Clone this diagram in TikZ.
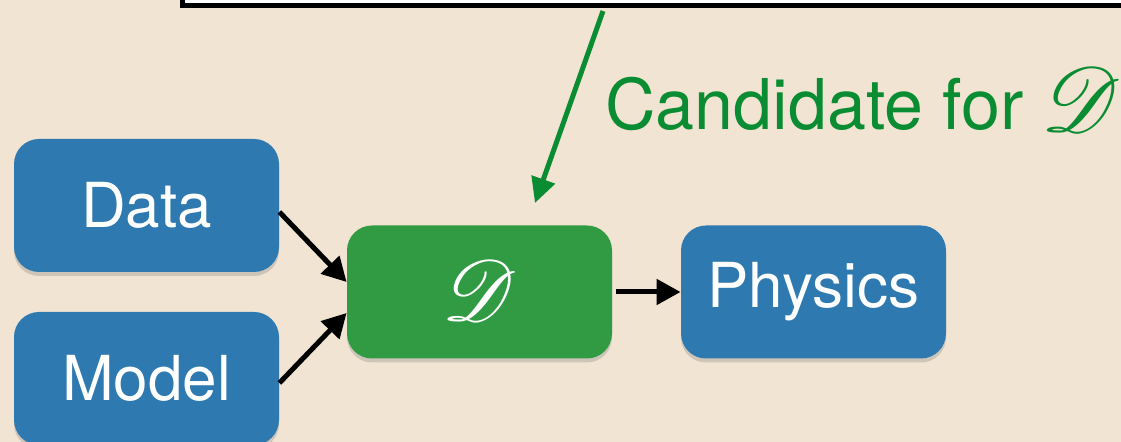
\documentclass[tikz,border=0pt]{standalone}
\usepackage{fontspec}
\setmainfont{TeX Gyre Heros}
\usepackage{mathrsfs}
\usetikzlibrary{arrows.meta,shadows}
\definecolor{wood}{RGB}{241,228,211}
\definecolor{boxblue}{RGB}{46,122,176}
\definecolor{boxgreen}{RGB}{48,155,66}
\definecolor{txtgreen}{RGB}{10,140,50}
\newcommand{\scrD}[1]{\resizebox{!}{#1}{$\mathscr{D}$}}
\begin{document}
\begin{tikzpicture}[x=0.5pt,y=-0.5pt,
  blk/.style={rounded corners=12.5pt, minimum width=132.5pt, minimum height=66.5pt,
    inner sep=0pt, text=white, font=\fontsize{31}{34}\selectfont,
    drop shadow={shadow xshift=0pt, shadow yshift=-2pt, opacity=0.3}},
  bluebox/.style={blk, fill=boxblue},
  greenbox/.style={blk, fill=boxgreen},
  arr/.style={line width=2.5pt, black, -{Triangle[length=12pt,width=12.5pt]}},
  garr/.style={line width=2.5pt, txtgreen, -{Triangle[length=12.5pt,width=12pt]}}]
\useasboundingbox (0,0) rectangle (1121,442);
\fill[wood] (0,0) rectangle (1121,442);
\begin{scope}
\clip (0,0) rectangle (1121,442);
\node[draw=black, line width=2.5pt, fill=white, minimum width=558.75pt, minimum height=52.5pt, inner sep=0pt] (top) at (741.25,-47.25) {};
\node[bluebox] (data) at (146.5,205.5) {Data};
\node[bluebox] (model) at (146.5,378.5) {Model};
\node[greenbox] (dd) at (479.5,292) {\raisebox{1pt}{\scrD{30pt}}};
\node[bluebox] (phys) at (813.5,292) {Physics};
\end{scope}
\node[anchor=base west, inner sep=0pt, text=txtgreen, font=\fontsize{35}{38}\selectfont] (cand) at (605,130) {Candidate for\hspace{9pt}\raisebox{-1pt}{\scrD{32pt}}};
\coordinate (gs) at (603,11);
\coordinate (gt) at (535,203);
\draw[garr] (gs) -- (gt);
\draw[arr] ([yshift=-3.25pt]data.east) -- ([yshift=5pt]dd.west);
\draw[arr] ([yshift=-2.25pt]model.east) -- ([yshift=-10.5pt]dd.west);
\draw[arr] ([xshift=2pt]dd.east) -- (phys.west);
\end{tikzpicture}
\end{document}
